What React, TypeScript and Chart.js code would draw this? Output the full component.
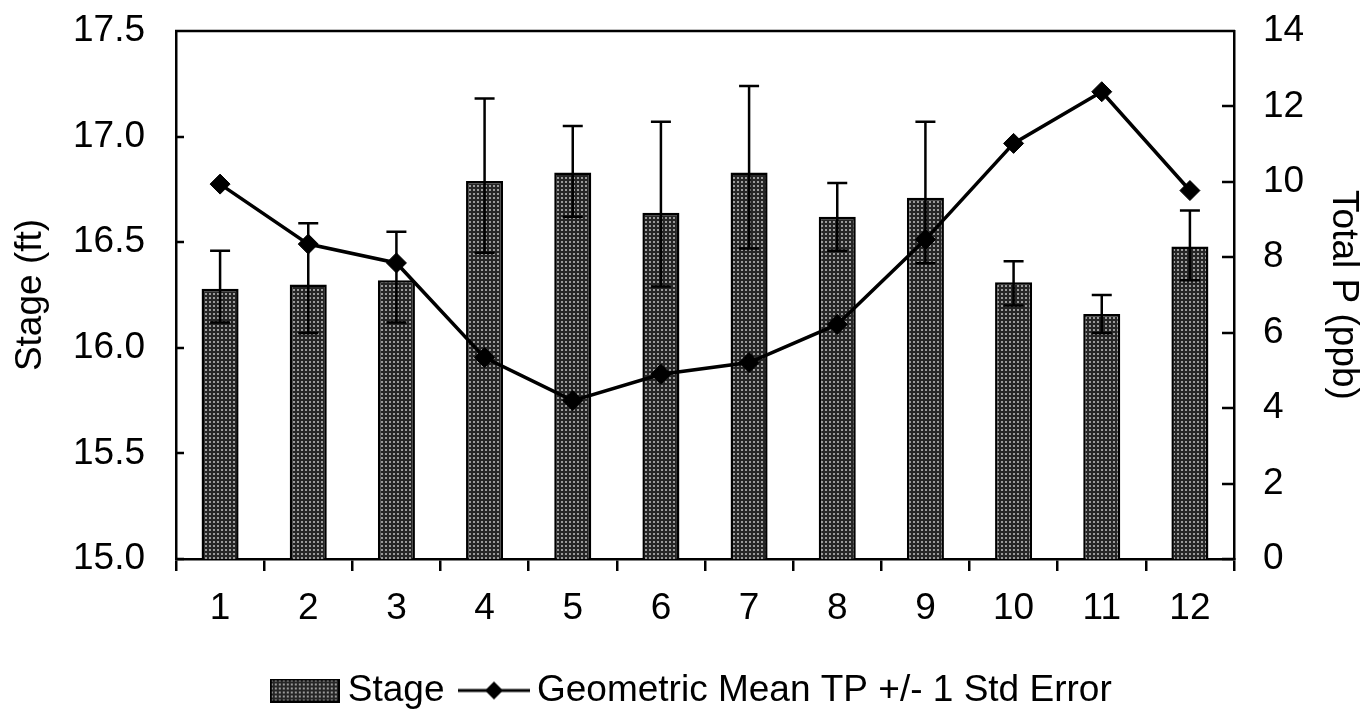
import React, { useEffect, useRef } from 'react';
import { Chart, registerables } from 'chart.js';

Chart.register(...registerables);

// ---- data ----
const months: string[] = ['1', '2', '3', '4', '5', '6', '7', '8', '9', '10', '11', '12'];
const stage: number[] = [16.28, 16.30, 16.32, 16.79, 16.83, 16.64, 16.83, 16.62, 16.71, 16.31, 16.16, 16.48];
const stageUpper: number[] = [16.46, 16.59, 16.55, 17.18, 17.05, 17.07, 17.24, 16.78, 17.07, 16.41, 16.25, 16.65];
const stageLower: number[] = [16.12, 16.07, 16.12, 16.45, 16.62, 16.29, 16.47, 16.46, 16.40, 16.20, 16.07, 16.32];
const totalP: number[] = [9.94, 8.35, 7.85, 5.34, 4.2, 4.9, 5.21, 6.22, 8.47, 11.02, 12.39, 9.77];
const stageTicks = { min: 15.0, max: 17.5, step: 0.5 };
const tpTicks = { min: 0, max: 14, step: 2 };
const stageLabel = 'Stage';
const tpLabel = 'Geometric Mean TP +/- 1 Std Error';
const leftTitle = 'Stage (ft)';
const rightTitle = 'Total P (ppb)';

const FONT = "'Liberation Sans', Arial, sans-serif";
const FS = 37;

function makeTile(): HTMLCanvasElement {
  const c = document.createElement('canvas');
  c.width = 4;
  c.height = 4;
  const g = c.getContext('2d')!;
  g.fillStyle = '#262626';
  g.fillRect(0, 0, 4, 4);
  g.fillStyle = '#9a9a9a';
  g.fillRect(1, 1, 2, 2);
  return c;
}

function makeStageLegendIcon(): HTMLCanvasElement {
  const c = document.createElement('canvas');
  c.width = 70;
  c.height = 24;
  const g = c.getContext('2d')!;
  const pat = g.createPattern(makeTile(), 'repeat')!;
  g.fillStyle = pat;
  g.fillRect(0, 0, 70, 24);
  g.strokeStyle = '#000';
  g.lineWidth = 2;
  g.strokeRect(1, 1, 68, 22);
  return c;
}

function makeLineLegendIcon(): HTMLCanvasElement {
  const c = document.createElement('canvas');
  c.width = 72;
  c.height = 24;
  const g = c.getContext('2d')!;
  g.strokeStyle = '#000';
  g.lineWidth = 3;
  g.beginPath();
  g.moveTo(0, 12);
  g.lineTo(72, 12);
  g.stroke();
  g.fillStyle = '#000';
  g.beginPath();
  g.moveTo(36, 3);
  g.lineTo(45, 12);
  g.lineTo(36, 21);
  g.lineTo(27, 12);
  g.closePath();
  g.fill();
  return c;
}

const errorBarPlugin = {
  id: 'errorBars',
  afterDatasetDraw(chart: any, args: any) {
    if (args.index !== 0) return;
    const { ctx } = chart;
    const y = chart.scales.y;
    ctx.save();
    ctx.strokeStyle = '#000';
    ctx.lineWidth = 2.5;
    args.meta.data.forEach((bar: any, i: number) => {
      const x = bar.x;
      const yt = y.getPixelForValue(stageUpper[i]);
      const yb = y.getPixelForValue(stageLower[i]);
      ctx.beginPath();
      ctx.moveTo(x, yt);
      ctx.lineTo(x, yb);
      ctx.moveTo(x - 10, yt);
      ctx.lineTo(x + 10, yt);
      ctx.moveTo(x - 10, yb);
      ctx.lineTo(x + 10, yb);
      ctx.stroke();
    });
    ctx.restore();
  },
};

const framePlugin = {
  id: 'frame',
  afterDatasetsDraw(chart: any) {
    const { ctx, chartArea } = chart;
    const yl = chart.scales.y;
    const yr = chart.scales.y1;
    ctx.save();
    ctx.strokeStyle = '#000';
    ctx.lineWidth = 2.5;
    ctx.beginPath();
    ctx.moveTo(chartArea.left - 1, chartArea.top);
    ctx.lineTo(chartArea.right + 1, chartArea.top);
    yl.ticks.forEach((t: any) => {
      const p = Math.round(yl.getPixelForValue(t.value));
      ctx.moveTo(chartArea.left, p);
      ctx.lineTo(chartArea.left + 8, p);
    });
    yr.ticks.forEach((t: any) => {
      const p = Math.round(yr.getPixelForValue(t.value));
      ctx.moveTo(chartArea.right, p);
      ctx.lineTo(chartArea.right - 12, p);
    });
    ctx.stroke();
    ctx.restore();
  },
};

export default function App() {
  const ref = useRef<HTMLCanvasElement | null>(null);

  useEffect(() => {
    const canvas = ref.current;
    if (!canvas) return;
    const ctx = canvas.getContext('2d')!;
    const pattern = ctx.createPattern(makeTile(), 'repeat')!;
    const stageIcon = makeStageLegendIcon();
    const lineIcon = makeLineLegendIcon();

    Chart.defaults.font.family = FONT;
    Chart.defaults.color = '#000';

    const chart = new Chart(canvas, {
      type: 'bar',
      data: {
        labels: months,
        datasets: [
          {
            type: 'bar',
            label: stageLabel,
            data: stage,
            yAxisID: 'y',
            backgroundColor: pattern as any,
            borderColor: '#000',
            borderWidth: 2.5,
            categoryPercentage: 1,
            barPercentage: 0.42,
            order: 2,
          },
          {
            type: 'line',
            label: tpLabel,
            data: totalP,
            yAxisID: 'y1',
            borderColor: '#000',
            borderWidth: 3.5,
            pointStyle: 'rectRot',
            pointRadius: 10,
            pointBackgroundColor: '#000',
            pointBorderColor: '#000',
            pointBorderWidth: 1,
            tension: 0,
            order: 1,
          } as any,
        ],
      },
      options: {
        responsive: false,
        animation: false,
        layout: { padding: { top: 31, left: 30, right: 0, bottom: 0 } },
        plugins: {
          tooltip: { enabled: false },
          legend: {
            position: 'bottom',
            labels: {
              font: { size: FS, family: FONT },
              color: '#000',
              usePointStyle: true,
              pointStyleWidth: 49,
              boxHeight: 24,
              padding: 25,
              generateLabels: () => [
                { text: stageLabel, pointStyle: stageIcon as any, fillStyle: '#000', strokeStyle: '#000', lineWidth: 0, hidden: false, datasetIndex: 0 } as any,
                { text: tpLabel, pointStyle: lineIcon as any, fillStyle: '#000', strokeStyle: '#000', lineWidth: 0, hidden: false, datasetIndex: 1 } as any,
              ],
            },
          },
        },
        scales: {
          x: {
            type: 'category',
            offset: true,
            grid: {
              display: true,
              offset: true,
              drawOnChartArea: false,
              drawTicks: true,
              tickLength: 12,
              color: '#000',
              lineWidth: 2.5,
            },
            border: { display: true, color: '#000', width: 2.5 },
            ticks: { font: { size: FS, family: FONT }, color: '#000', padding: 16, maxRotation: 0, autoSkip: false },
            afterFit: (s: any) => {
              const lh = s.chart.legend ? s.chart.legend.height : 56;
              s.height = 719 - 559 - lh;
            },
          },
          y: {
            type: 'linear',
            position: 'left',
            min: stageTicks.min,
            max: stageTicks.max,
            grid: { display: true, drawOnChartArea: false, drawTicks: true, tickLength: 31, color: 'rgba(0,0,0,0)' },
            border: { display: true, color: '#000', width: 2.5 },
            ticks: {
              stepSize: stageTicks.step,
              font: { size: FS, family: FONT },
              color: '#000',
              padding: 0,
              callback: (v: any) => Number(v).toFixed(1),
            },
            title: {
              display: true,
              text: leftTitle,
              font: { size: FS, family: FONT, lineHeight: 1 },
              color: '#000',
              padding: { top: -18, bottom: 0 },
            },
            afterFit: (s: any) => {
              s.width = 146;
            },
          },
          y1: {
            type: 'linear',
            position: 'right',
            min: tpTicks.min,
            max: tpTicks.max,
            grid: { display: true, drawOnChartArea: false, drawTicks: true, tickLength: 29, color: 'rgba(0,0,0,0)' },
            border: { display: true, color: '#000', width: 2.5 },
            ticks: {
              stepSize: tpTicks.step,
              font: { size: FS, family: FONT },
              color: '#000',
              padding: 0,
            },
            title: {
              display: true,
              text: rightTitle,
              font: { size: FS, family: FONT, lineHeight: 1 },
              color: '#000',
              padding: { top: 0, bottom: 0 },
            },
            afterFit: (s: any) => {
              s.width = 128;
            },
          },
        },
      },
      plugins: [errorBarPlugin, framePlugin],
    });

    return () => {
      chart.destroy();
    };
  }, []);

  return (
    <div style={{ position: 'absolute', left: 0, top: 0, width: 1362, height: 719, background: '#fff' }}>
      <canvas ref={ref} width={1362} height={719} style={{ display: 'block' }} />
    </div>
  );
}
